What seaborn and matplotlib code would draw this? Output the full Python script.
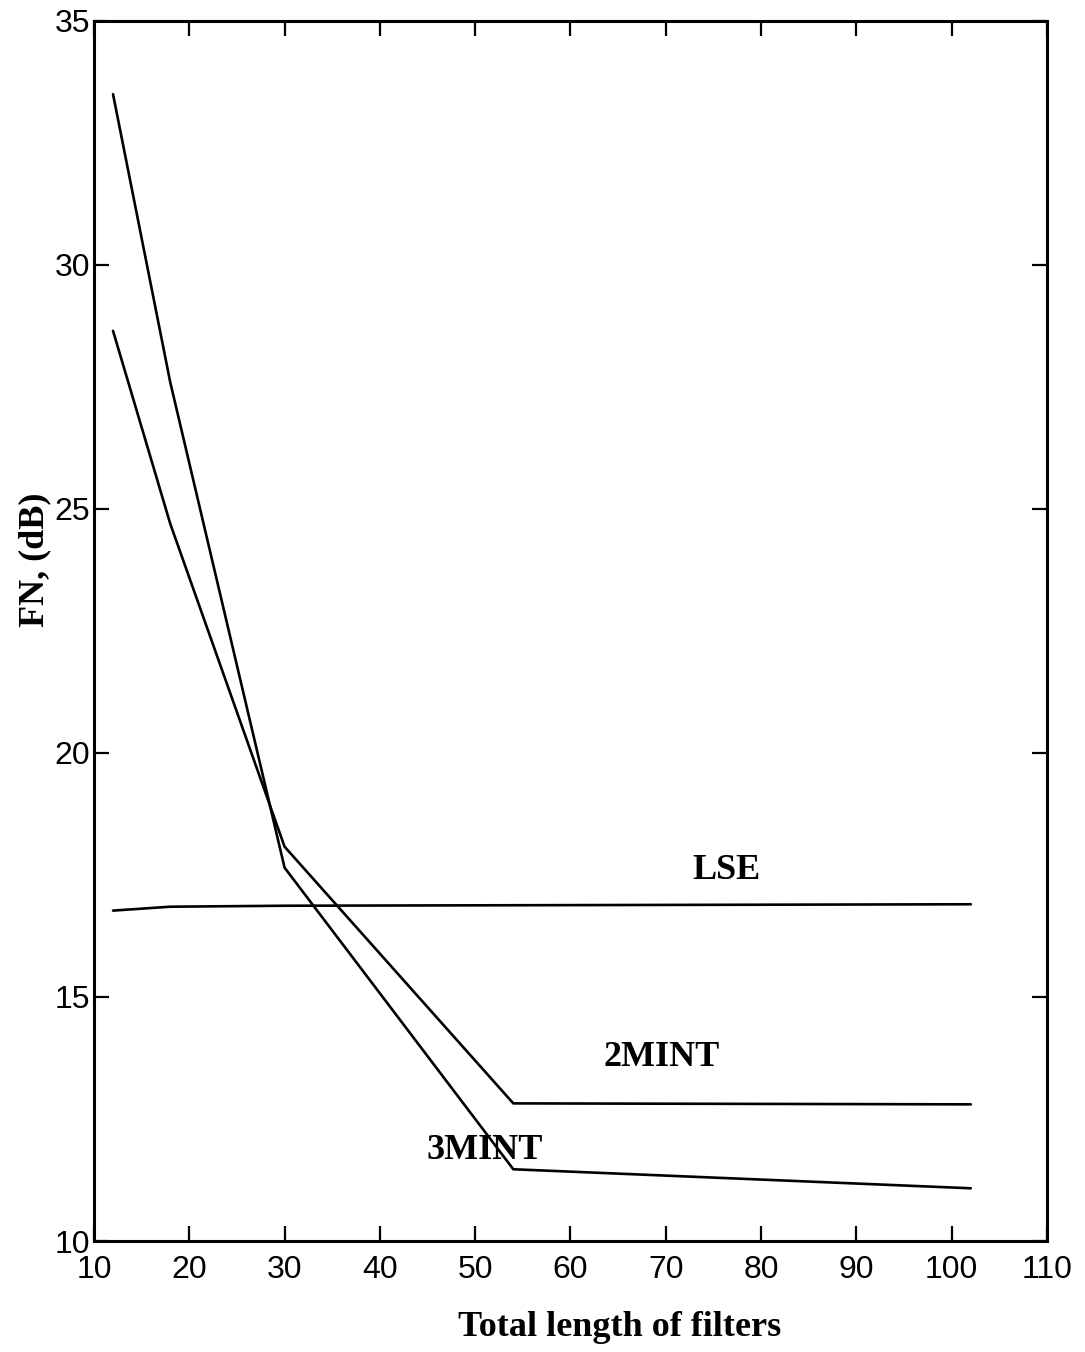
import matplotlib
matplotlib.use("Agg")
import matplotlib.pyplot as plt
import seaborn as sns
import pandas as pd

# Total filter length (x) and FN in dB for each design method
filter_length = [12, 18, 30, 54, 102]
fn_3mint = [33.5, 27.6, 17.65, 11.47, 11.08]
fn_2mint = [28.65, 24.7, 18.08, 12.82, 12.8]
fn_lse = [16.77, 16.85, 16.87, 16.88, 16.9]

method_names = ["3MINT", "2MINT", "LSE"]
x_ticks = [10, 20, 30, 40, 50, 60, 70, 80, 90, 100, 110]
y_ticks = [10, 15, 20, 25, 30, 35]

frames = []
for name, vals in zip(method_names, [fn_3mint, fn_2mint, fn_lse]):
    frames.append(pd.DataFrame({"length": filter_length, "fn": vals, "method": name}))
df = pd.concat(frames, ignore_index=True)

sns.set_style("ticks")
plt.rcParams["font.family"] = ["Liberation Sans", "DejaVu Sans"]
plt.rcParams["text.color"] = "black"
plt.rcParams["axes.labelcolor"] = "black"

fig = plt.figure(figsize=(10.85, 13.52), dpi=100)
ax = fig.add_axes([0.0866, 0.0821, 0.8784, 0.9024])

sns.lineplot(data=df, x="length", y="fn", units="method", estimator=None,
             color="black", linewidth=1.9, ax=ax, legend=False)

ax.set_xlim(10, 110)
ax.set_ylim(10, 35)
ax.set_xticks(x_ticks)
ax.set_yticks(y_ticks)
ax.set_xticklabels([str(t) for t in x_ticks])
ax.set_yticklabels([str(t) for t in y_ticks])

for side in ["top", "right", "bottom", "left"]:
    ax.spines[side].set_visible(True)
    ax.spines[side].set_linewidth(2.2)
    ax.spines[side].set_color("black")

ax.tick_params(axis="both", direction="in", length=11, width=1.6,
               top=True, right=True, labelsize=23, colors="black")
ax.tick_params(axis="x", pad=10)
ax.tick_params(axis="y", pad=3)

serif = ["Liberation Serif", "DejaVu Serif"]
ax.set_xlabel("Total length of filters", fontsize=26, fontweight="bold",
              family=serif, color="black")
ax.set_ylabel("FN, (dB)", fontsize=26, fontweight="bold", family=serif,
              color="black")
ax.xaxis.set_label_coords(0.552, -0.071)
ax.yaxis.set_label_coords(-0.062, 0.558)
ax.xaxis.label.set_va("center")
ax.yaxis.label.set_va("center")

label_pos = {"LSE": (76.4, 17.6), "2MINT": (69.6, 13.75), "3MINT": (51.0, 11.85)}
for name, (lx, ly) in label_pos.items():
    ax.text(lx, ly, name, ha="center", va="center", fontsize=26,
            fontweight="bold", family=serif, color="black")

fig.savefig("out.png", dpi=100, facecolor="white")
